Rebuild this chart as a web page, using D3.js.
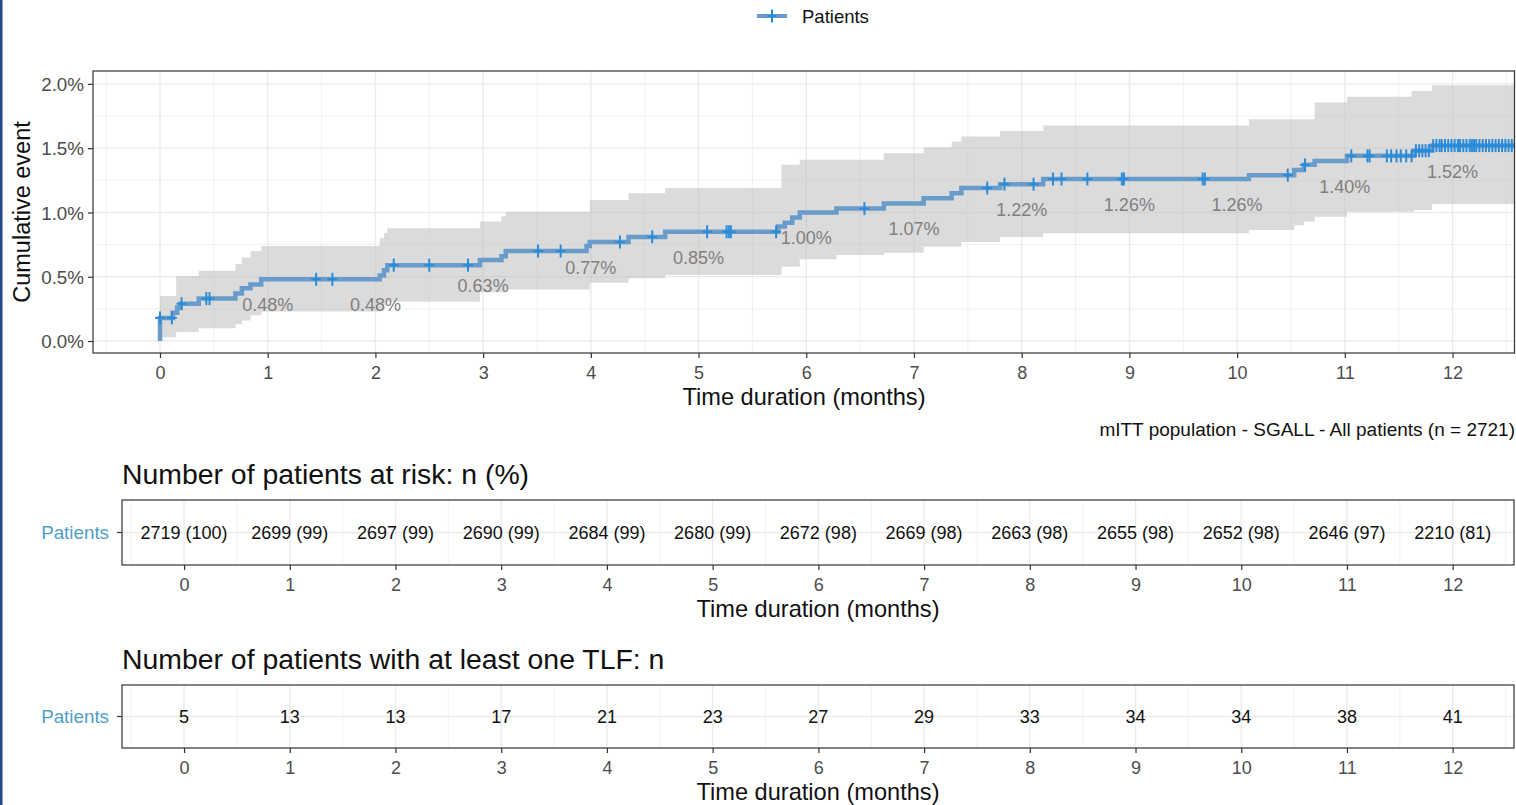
<!DOCTYPE html>
<html>
<head>
<meta charset="utf-8">
<script src="https://cdn.jsdelivr.net/npm/d3@7"></script>
<style>
  body { margin: 0; background: #fff; }
  svg { display: block; font-family: "Liberation Sans", Arial, sans-serif; }
</style>
</head>
<body>
<svg id="chart" width="1516" height="805"></svg>
<script>
// ---- data ----
// cumulative event curve (%), step after each time (months)
var stepTimes  = [0, 0.12, 0.16, 0.19, 0.36, 0.70, 0.76, 0.84, 0.94, 2.04, 2.08, 2.11, 2.97, 3.17, 3.21, 3.96, 3.99, 4.35, 4.69, 5.74, 5.80, 5.87, 5.94, 6.28, 6.72, 7.09, 7.35, 7.44, 7.80, 8.20, 10.11, 10.53, 10.62, 10.72, 11.02, 11.64, 11.81]
var stepValues = [0.18, 0.22, 0.26, 0.29, 0.33, 0.37, 0.41, 0.44, 0.48, 0.51, 0.55, 0.59, 0.63, 0.66, 0.70, 0.74, 0.77, 0.81, 0.85, 0.89, 0.92, 0.96, 1.00, 1.03, 1.07, 1.11, 1.15, 1.19, 1.22, 1.26, 1.29, 1.33, 1.37, 1.40, 1.44, 1.48, 1.52]

// confidence band (%)
var upperTimes  = [0, 0.15, 0.36, 0.70, 0.76, 0.84, 0.94, 2.04, 2.08, 2.11, 2.97, 3.17, 3.21, 3.99, 4.35, 4.69, 5.77, 5.94, 6.72, 7.09, 7.35, 7.44, 7.80, 8.20, 10.11, 10.72, 11.02, 11.62, 11.81]
var upperValues = [0.35, 0.505, 0.547, 0.60, 0.65, 0.70, 0.74, 0.80, 0.84, 0.877, 0.93, 0.97, 1.006, 1.097, 1.15, 1.19, 1.37, 1.41, 1.46, 1.507, 1.55, 1.59, 1.634, 1.676, 1.725, 1.855, 1.90, 1.945, 1.99]
var lowerTimes  = [0, 0.15, 0.36, 0.70, 0.76, 0.84, 0.94, 2.04, 2.08, 2.11, 2.97, 3.21, 3.99, 4.35, 4.69, 5.77, 5.94, 6.28, 6.72, 7.09, 7.44, 7.80, 8.20, 10.11, 10.53, 10.62, 10.72, 11.02, 11.64, 11.81]
var lowerValues = [0.03, 0.07, 0.10, 0.13, 0.16, 0.20, 0.23, 0.25, 0.28, 0.306, 0.38, 0.40, 0.454, 0.488, 0.514, 0.578, 0.636, 0.67, 0.687, 0.734, 0.77, 0.81, 0.838, 0.864, 0.90, 0.93, 0.967, 1.006, 1.02, 1.066]

// censored times (months)
var censorTimes = [0, 0.11, 0.20, 0.43, 0.46, 1.45, 1.60, 2.17, 2.50, 2.86, 3.51, 3.72, 4.27, 4.57, 5.08, 5.26, 5.28, 5.30, 5.72,
  6.54, 7.68, 7.84, 8.11, 8.29, 8.37, 8.61, 8.93, 8.95, 9.68, 9.70, 10.47, 10.63, 11.06, 11.21, 11.23,
  11.39, 11.43, 11.48, 11.52, 11.57, 11.62, 11.66, 11.69, 11.72, 11.75, 11.78,
  11.82, 11.85, 11.88, 11.90, 11.93, 11.96, 11.99, 12.02, 12.05, 12.07, 12.10, 12.13, 12.16, 12.18, 12.20,
  12.22, 12.25, 12.28, 12.31, 12.34, 12.37, 12.40, 12.43, 12.46, 12.49, 12.52, 12.55]

// labels at months 1..12
var labelMonths = [1, 2, 3, 4, 5, 6, 7, 8, 9, 10, 11, 12]
var labelValues = [0.48, 0.48, 0.63, 0.77, 0.85, 1.00, 1.07, 1.22, 1.26, 1.26, 1.40, 1.52]

// tables
var tableMonths = [0, 1, 2, 3, 4, 5, 6, 7, 8, 9, 10, 11, 12]
var riskN   = [2719, 2699, 2697, 2690, 2684, 2680, 2672, 2669, 2663, 2655, 2652, 2646, 2210]
var riskPct = [100, 99, 99, 99, 99, 99, 98, 98, 98, 98, 98, 97, 81]
var tlfN    = [5, 13, 13, 17, 21, 23, 27, 29, 33, 34, 34, 38, 41]
var yTicks  = [0, 0.5, 1, 1.5, 2]

var seriesName = "Patients"
var xTitle = "Time duration (months)"

/*
    Setup
*/
var svg = d3.select("#chart")
var lineBlue = "#6a9ccb"
var markBlue = "#2a8bd8"
var gridCol = "#ebebeb"
var tickCol = "#4d4d4d"

svg.append("rect").attr("x", 0).attr("y", 0).attr("width", 2.5).attr("height", 805).attr("fill", "#24478f")

// step function lookup
function stepAt(times, vals, t) {
    var v = vals[0]
    for (var i = 0; i < times.length; i++) {
        if (times[i] <= t) v = vals[i]
    }
    return v
}

// main panel
var main = { left: 93, right: 1515, top: 71, bottom: 353 }
var xMax = 12.58
var x = d3.scaleLinear().domain([-0.622, xMax]).range([main.left, main.right])
var y = d3.scaleLinear().domain([-0.093, 2.1]).range([main.bottom, main.top])

svg.append("defs").append("clipPath").attr("id", "clipMain")
    .append("rect").attr("x", main.left).attr("y", main.top)
    .attr("width", main.right - main.left).attr("height", main.bottom - main.top)

var grid = svg.append("g")
var minorX = d3.range(-0.5, 13, 1)
var majorX = tableMonths
grid.selectAll(".mx").data(minorX).enter().append("line")
    .attr("x1", d => x(d)).attr("x2", d => x(d)).attr("y1", main.top).attr("y2", main.bottom)
    .attr("stroke", gridCol).attr("stroke-width", 0.7)
grid.selectAll(".my").data([0.25, 0.75, 1.25, 1.75]).enter().append("line")
    .attr("x1", main.left).attr("x2", main.right).attr("y1", d => y(d)).attr("y2", d => y(d))
    .attr("stroke", gridCol).attr("stroke-width", 0.7)
grid.selectAll(".Mx").data(majorX).enter().append("line")
    .attr("x1", d => x(d)).attr("x2", d => x(d)).attr("y1", main.top).attr("y2", main.bottom)
    .attr("stroke", gridCol).attr("stroke-width", 1.4)
grid.selectAll(".My").data(yTicks).enter().append("line")
    .attr("x1", main.left).attr("x2", main.right).attr("y1", d => y(d)).attr("y2", d => y(d))
    .attr("stroke", gridCol).attr("stroke-width", 1.4)

var plot = svg.append("g").attr("clip-path", "url(#clipMain)")

// confidence band
var bandTimes = Array.from(new Set(upperTimes.concat(lowerTimes))).sort((a, b) => a - b)
var band = bandTimes.map(t => ({ t: t, lo: stepAt(lowerTimes, lowerValues, t), hi: stepAt(upperTimes, upperValues, t) }))
band.push({ t: xMax, lo: band[band.length - 1].lo, hi: band[band.length - 1].hi })
plot.append("path").datum(band)
    .attr("d", d3.area().curve(d3.curveStepAfter).x(d => x(d.t)).y0(d => y(d.lo)).y1(d => y(d.hi)))
    .attr("fill", "#bdbdbd").attr("fill-opacity", 0.55)

// curve
var curvePts = [{ t: 0, v: 0 }].concat(stepTimes.map((t, i) => ({ t: t, v: stepValues[i] })))
curvePts.push({ t: xMax, v: stepValues[stepValues.length - 1] })
plot.append("path").datum(curvePts)
    .attr("d", d3.line().curve(d3.curveStepAfter).x(d => x(d.t)).y(d => y(d.v)))
    .attr("fill", "none").attr("stroke", lineBlue).attr("stroke-width", 4.5)

// censor marks
var marks = plot.selectAll(".cens").data(censorTimes).enter().append("g")
    .attr("transform", d => "translate(" + x(d) + "," + y(stepAt(stepTimes, stepValues, d)) + ")")
marks.append("line").attr("x1", -5).attr("x2", 5).attr("y1", 0).attr("y2", 0)
    .attr("stroke", markBlue).attr("stroke-width", 2)
marks.append("line").attr("x1", 0).attr("x2", 0).attr("y1", -6.5).attr("y2", 6.5)
    .attr("stroke", markBlue).attr("stroke-width", 2)

// percent labels
plot.selectAll(".lab").data(labelMonths).enter().append("text")
    .attr("x", d => x(d)).attr("y", (d, i) => y(labelValues[i]) + 32)
    .attr("text-anchor", "middle").attr("font-size", 18).attr("fill", "#808080")
    .text((d, i) => labelValues[i].toFixed(2) + "%")

svg.append("rect").attr("x", main.left).attr("y", main.top)
    .attr("width", main.right - main.left - 0.5).attr("height", main.bottom - main.top)
    .attr("fill", "none").attr("stroke", "#333").attr("stroke-width", 1.2)

// axes
function styleAxis(g) {
    g.select(".domain").remove()
    g.selectAll(".tick line").attr("stroke", "#333").attr("stroke-width", 1.2)
    g.selectAll(".tick text").attr("fill", tickCol).attr("font-size", 18)
        .attr("font-family", "Liberation Sans, Arial, sans-serif")
}
svg.append("g").attr("transform", "translate(0," + main.bottom + ")")
    .call(d3.axisBottom(x).tickValues(tableMonths).tickSize(5).tickPadding(8).tickFormat(d3.format("d")))
    .call(styleAxis)
svg.append("g").attr("transform", "translate(" + main.left + ",0)")
    .call(d3.axisLeft(y).tickValues(yTicks).tickSize(5).tickPadding(4).tickFormat(d => d3.format(".1f")(d) + "%"))
    .call(styleAxis)
    .selectAll(".tick text").attr("dy", "0.35em").attr("font-size", 18.8)

svg.append("text").attr("x", (main.left + main.right) / 2).attr("y", 405)
    .attr("text-anchor", "middle").attr("font-size", 23.6).attr("fill", "#111").text(xTitle)
svg.append("text").attr("transform", "translate(30," + (main.top + main.bottom) / 2 + ") rotate(-90)")
    .attr("text-anchor", "middle").attr("font-size", 23.5).attr("fill", "#111").text("Cumulative event")
svg.append("text").attr("x", 1515).attr("y", 436)
    .attr("text-anchor", "end").attr("font-size", 19).attr("fill", "#111")
    .text("mITT population - SGALL - All patients (n = 2721)")

// legend
var leg = svg.append("g").attr("transform", "translate(772,16)")
leg.append("line").attr("x1", -15).attr("x2", 15).attr("stroke", lineBlue).attr("stroke-width", 4)
leg.append("line").attr("x1", -5).attr("x2", 5).attr("stroke", markBlue).attr("stroke-width", 2)
leg.append("line").attr("y1", -6.5).attr("y2", 6.5).attr("stroke", markBlue).attr("stroke-width", 2)
leg.append("text").attr("x", 30).attr("y", 6.5).attr("font-size", 18.5).attr("fill", "#111").text(seriesName)

/*
    Tables
*/
var tx = d3.scaleLinear().domain([-0.587, xMax]).range([122, 1514])

function drawTable(top, bottom, title, labels) {
    var mid = (top + bottom) / 2
    var g = svg.append("g")
    g.append("text").attr("x", 122).attr("y", top - 16).attr("font-size", 28.4).attr("fill", "#111").text(title)
    g.selectAll(".mx").data(minorX).enter().append("line")
        .attr("x1", d => tx(d)).attr("x2", d => tx(d)).attr("y1", top).attr("y2", bottom)
        .attr("stroke", gridCol).attr("stroke-width", 0.7)
    g.selectAll(".Mx").data(majorX).enter().append("line")
        .attr("x1", d => tx(d)).attr("x2", d => tx(d)).attr("y1", top).attr("y2", bottom)
        .attr("stroke", gridCol).attr("stroke-width", 1.4)
    g.append("line").attr("x1", 122).attr("x2", 1514).attr("y1", mid).attr("y2", mid)
        .attr("stroke", gridCol).attr("stroke-width", 1.4)
    g.selectAll(".val").data(tableMonths).enter().append("text")
        .attr("x", d => tx(d)).attr("y", mid + 6.5).attr("text-anchor", "middle")
        .attr("font-size", 18).attr("fill", "#111").text((d, i) => labels[i])
    g.append("rect").attr("x", 122).attr("y", top).attr("width", 1514 - 122).attr("height", bottom - top)
        .attr("fill", "none").attr("stroke", "#333").attr("stroke-width", 1.2)

    var ty = d3.scaleBand().domain([seriesName]).range([top, bottom])
    g.append("g").attr("transform", "translate(122,0)")
        .call(d3.axisLeft(ty).tickSize(5).tickPadding(8))
        .call(styleAxis)
        .selectAll(".tick text").attr("fill", "#4f9fc9").attr("dy", "0.35em").attr("font-size", 18.8)
    g.append("g").attr("transform", "translate(0," + bottom + ")")
        .call(d3.axisBottom(tx).tickValues(tableMonths).tickSize(5).tickPadding(8).tickFormat(d3.format("d")))
        .call(styleAxis)
    g.append("text").attr("x", (122 + 1514) / 2).attr("y", bottom + 52)
        .attr("text-anchor", "middle").attr("font-size", 23.6).attr("fill", "#111").text(xTitle)
}

drawTable(500, 565, "Number of patients at risk: n (%)", riskN.map((n, i) => n + " (" + riskPct[i] + ")"))
drawTable(685, 748, "Number of patients with at least one TLF: n", tlfN)
</script>
</body>
</html>
